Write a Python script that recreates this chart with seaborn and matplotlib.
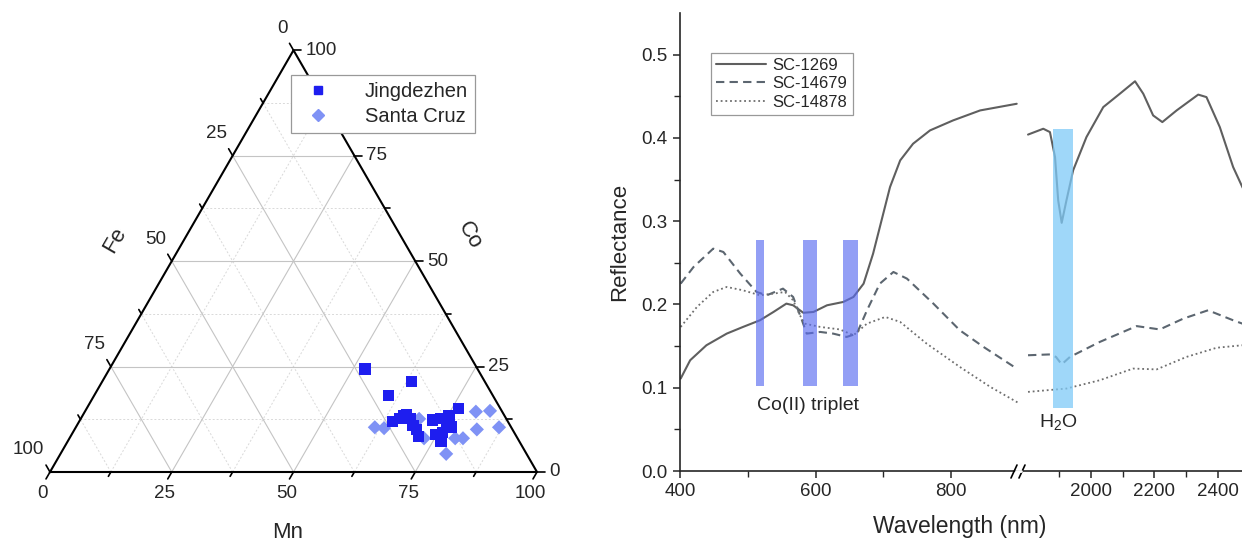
import numpy as np
import pandas as pd
import matplotlib
matplotlib.use("Agg")
import matplotlib.pyplot as plt
from matplotlib.lines import Line2D
import seaborn as sns

# ---------------- Data: ternary (Mn, Co, Fe in %) ----------------
jdz_mn = [52.5, 63.5, 60.4, 76.4, 66.5, 65.4, 64.4, 67.6, 69.0, 70.3, 71.4, 72.4, 73.9, 75.3, 75.5, 77.1, 74.8, 76.0, 76.7, 65.9]
jdz_co = [24.4, 21.4, 18.2, 15.0, 13.5, 12.7, 11.9, 12.7, 11.1, 10.0, 8.5, 12.3, 12.7, 13.3, 11.9, 10.7, 8.9, 9.3, 7.2, 13.3]
jdz_fe = [23.1, 15.1, 21.4, 8.6, 20.0, 21.9, 23.7, 19.7, 19.9, 19.7, 20.1, 15.3, 13.4, 11.4, 12.6, 12.2, 16.3, 14.7, 16.1, 20.8]

scz_mn = [61.4, 63.4, 69.5, 72.8, 79.2, 80.8, 79.2, 80.3, 83.1, 82.6, 86.9]
scz_co = [10.6, 10.4, 12.6, 8.0, 8.0, 8.0, 4.3, 14.3, 14.5, 10.1, 10.6]
scz_fe = [28.0, 26.2, 17.9, 19.2, 12.8, 11.2, 16.5, 5.4, 2.4, 7.3, 2.5]

tern_ticks = [0, 25, 50, 75, 100]
tern_minor = [12.5, 37.5, 62.5, 87.5]

# ---------------- Data: reflectance spectra ----------------
sc1269_vis_wl = [401, 415, 439, 469, 493, 518, 538, 557, 567, 582, 597, 617, 641, 656, 671, 685, 695, 710, 725, 744, 769, 803, 843, 897]
sc1269_vis_r = [0.111, 0.133, 0.151, 0.165, 0.173, 0.181, 0.191, 0.201, 0.199, 0.190, 0.191, 0.199, 0.203, 0.209, 0.225, 0.261, 0.293, 0.341, 0.373, 0.393, 0.409, 0.421, 0.433, 0.441]
sc1269_nir_wl = [1802, 1850, 1871, 1887, 1897, 1908, 1923, 1944, 1986, 2039, 2091, 2139, 2165, 2196, 2225, 2270, 2338, 2364, 2406, 2448, 2477, 2500]
sc1269_nir_r = [0.404, 0.411, 0.407, 0.377, 0.325, 0.298, 0.325, 0.361, 0.401, 0.437, 0.453, 0.468, 0.453, 0.427, 0.419, 0.433, 0.452, 0.449, 0.413, 0.365, 0.341, 0.325]

sc14679_vis_wl = [401, 420, 449, 464, 489, 513, 528, 552, 567, 580, 587, 607, 626, 646, 661, 676, 695, 715, 735, 774, 813, 848, 897]
sc14679_vis_r = [0.225, 0.245, 0.267, 0.263, 0.237, 0.215, 0.211, 0.219, 0.209, 0.181, 0.165, 0.167, 0.165, 0.161, 0.165, 0.193, 0.225, 0.239, 0.231, 0.201, 0.169, 0.149, 0.123]
sc14679_nir_wl = [1802, 1871, 1890, 1908, 1934, 2028, 2144, 2217, 2291, 2369, 2448, 2477, 2500]
sc14679_nir_r = [0.139, 0.140, 0.137, 0.128, 0.137, 0.155, 0.174, 0.170, 0.183, 0.193, 0.181, 0.177, 0.174]

sc14878_vis_wl = [401, 425, 449, 469, 493, 518, 538, 555, 567, 577, 584, 607, 636, 656, 676, 703, 725, 764, 813, 858, 899]
sc14878_vis_r = [0.173, 0.197, 0.215, 0.221, 0.217, 0.211, 0.213, 0.215, 0.205, 0.187, 0.177, 0.173, 0.170, 0.163, 0.177, 0.185, 0.179, 0.153, 0.125, 0.101, 0.082]
sc14878_nir_wl = [1802, 1923, 2028, 2133, 2207, 2301, 2396, 2477, 2500]
sc14878_nir_r = [0.095, 0.099, 0.109, 0.123, 0.122, 0.137, 0.148, 0.151, 0.152]

co_band_wl = [518, 592, 651]
co_band_width = [13, 20, 22]
co_band_range = [0.102, 0.277]
h2o_band_wl = [1913]
h2o_band_width = [62]
h2o_band_range = [0.076, 0.411]

vis_ticks = [400, 600, 800]
nir_ticks = [2000, 2200, 2400]
y_ticks = [0.0, 0.1, 0.2, 0.3, 0.4, 0.5]

# ---------------- Style ----------------
sns.set_style("ticks")
plt.rcParams["font.family"] = ["Liberation Sans", "DejaVu Sans"]
plt.rcParams["mathtext.default"] = "regular"

W, H = 1242, 543
fig = plt.figure(figsize=(W / 100, H / 100), dpi=100)

# ======== Ternary plot ========
PX = 487.0  # pixels per triangle unit
x0px, y0px = 50.0, 472.0
axT = fig.add_axes([0, 0, 560 / W, 1])
axT.set_xlim(-x0px / PX, (560 - x0px) / PX)
axT.set_ylim(-(H - y0px) / PX, y0px / PX)
axT.axis("off")
S3 = np.sqrt(3) / 2


def tern_xy(mn, co, fe):
    mn, co, fe = np.asarray(mn, float), np.asarray(co, float), np.asarray(fe, float)
    tot = mn + co + fe
    return (mn + 0.5 * co) / tot, S3 * co / tot


# grid
for k in tern_minor + tern_ticks[1:-1]:
    major = k in tern_ticks
    kw = dict(color="#c4c4c4", lw=0.8, ls="-") if major else dict(color="#d9d9d9", lw=0.7, ls=(0, (2, 2)))
    for a, b in [((0, k, 100 - k), (100 - k, k, 0)),          # Co = k
                 ((k, 0, 100 - k), (k, 100 - k, 0)),          # Mn = k
                 ((100 - k, 0, k), (0, 100 - k, k))]:         # Fe = k
        xa, ya = tern_xy(*a)
        xb, yb = tern_xy(*b)
        axT.plot([xa, xb], [ya, yb], zorder=1, **kw)

# triangle frame
tri = np.array([[0, 0], [1, 0], [0.5, S3], [0, 0]])
axT.plot(tri[:, 0], tri[:, 1], color="black", lw=1.5, zorder=4, solid_capstyle="projecting")

# ticks + labels
dirs = {"Mn": (-0.5, -S3), "Co": (1.0, 0.0), "Fe": (-0.5, S3)}
tick_fs = 13.5
for k in tern_ticks + tern_minor:
    major = k in tern_ticks
    L = (8 if major else 5) / PX
    bx, by = tern_xy(k, 0, 100 - k)
    d = dirs["Mn"]
    axT.plot([bx, bx + d[0] * L], [by, by + d[1] * L], color="black", lw=1.2, zorder=4)
    rx, ry = tern_xy(100 - k, k, 0)
    d = dirs["Co"]
    axT.plot([rx, rx + d[0] * L], [ry, ry + d[1] * L], color="black", lw=1.2, zorder=4)
    lx, ly = tern_xy(0, 100 - k, k)
    d = dirs["Fe"]
    axT.plot([lx, lx + d[0] * L], [ly, ly + d[1] * L], color="black", lw=1.2, zorder=4)
    if major:
        axT.text(bx - 7 / PX, by - 21 / PX, f"{k}", ha="center", va="center", fontsize=tick_fs)
        axT.text(rx + 12 / PX, ry, f"{k}", ha="left", va="center", fontsize=tick_fs)
        axT.text(lx - 6 / PX, ly + 22 / PX, f"{k}", ha="right", va="center", fontsize=tick_fs)

axT.text((288 - x0px) / PX, (y0px - 533) / PX, "Mn", ha="center", va="center", fontsize=16)
axT.text((115 - x0px) / PX, (y0px - 240) / PX, "Fe", ha="center", va="center", fontsize=16, rotation=60)
axT.text((470 - x0px) / PX, (y0px - 235) / PX, "Co", ha="center", va="center", fontsize=16, rotation=-60)

jx, jy = tern_xy(jdz_mn, jdz_co, jdz_fe)
sx, sy = tern_xy(scz_mn, scz_co, scz_fe)
tdf = pd.DataFrame({
    "x": np.concatenate([sx, jx]),
    "y": np.concatenate([sy, jy]),
    "site": ["Santa Cruz"] * len(sx) + ["Jingdezhen"] * len(jx),
})
col_j = "#1e1eef"
col_s = "#7f92f5"
sns.scatterplot(data=tdf[tdf.site == "Santa Cruz"], x="x", y="y", ax=axT, marker="D",
                color=col_s, s=52, edgecolor="none", zorder=5, legend=False)
sns.scatterplot(data=tdf[tdf.site == "Jingdezhen"], x="x", y="y", ax=axT, marker="s",
                color=col_j, s=66, edgecolor="none", zorder=6, legend=False)
axT.set_xlabel("")
axT.set_ylabel("")
axT.axis("off")

h_j = Line2D([], [], marker="s", ls="none", color=col_j, markersize=6)
h_s = Line2D([], [], marker="D", ls="none", color=col_s, markersize=6)
legT = axT.legend([h_j, h_s], ["Jingdezhen", "Santa Cruz"], loc="upper left",
                  bbox_to_anchor=(291 / 560, 1 - 75 / H), fontsize=14.5, frameon=True,
                  fancybox=False, edgecolor="#999999", framealpha=1, borderpad=0.35,
                  handletextpad=1.3, labelspacing=0.3, borderaxespad=0)
legT.get_frame().set_linewidth(0.9)

# ======== Reflectance plot ========
yb_px, yt_px = 471.0, 13.0
pxnm_vis = 0.6775
pxnm_nir = 0.3175
vis_lim = (400, 902)
nir_lim = (1783, 2500)
bottom = (H - yb_px) / H
height = (yb_px - yt_px) / H
axL = fig.add_axes([680 / W, bottom, (vis_lim[1] - vis_lim[0]) * pxnm_vis / W, height])
axR = fig.add_axes([1022 / W, bottom, (nir_lim[1] - nir_lim[0]) * pxnm_nir / W, height])

c1, c2, c3 = "#5f5f5f", "#5c6670", "#6e6e6e"
series = [
    ("SC-1269", sc1269_vis_wl, sc1269_vis_r, sc1269_nir_wl, sc1269_nir_r, c1, "-", 1.5),
    ("SC-14679", sc14679_vis_wl, sc14679_vis_r, sc14679_nir_wl, sc14679_nir_r, c2, (0, (4, 2.5)), 1.5),
    ("SC-14878", sc14878_vis_wl, sc14878_vis_r, sc14878_nir_wl, sc14878_nir_r, c3, (0, (1, 1.6)), 1.3),
]
for name, wv, rv, wn, rn, c, ls, lw in series:
    sns.lineplot(x=wv, y=rv, ax=axL, color=c, lw=lw, linestyle=ls, label=name, sort=False, estimator=None)
    sns.lineplot(x=wn, y=rn, ax=axR, color=c, lw=lw, linestyle=ls, sort=False, estimator=None, legend=False)

axL.bar(co_band_wl, co_band_range[1] - co_band_range[0], bottom=co_band_range[0],
        width=co_band_width, color="#5a6cf0", alpha=0.65, zorder=3, linewidth=0)
axR.bar(h2o_band_wl, h2o_band_range[1] - h2o_band_range[0], bottom=h2o_band_range[0],
        width=h2o_band_width, color="#7fcaf7", alpha=0.75, zorder=3, linewidth=0)

axL.text(589, 0.079, "Co(II) triplet", ha="center", va="center", fontsize=14)
axR.text(1896, 0.059, "H$_2$O", ha="center", va="center", fontsize=14)

for ax, lim in [(axL, vis_lim), (axR, nir_lim)]:
    ax.set_xlim(*lim)
    ax.set_ylim(0, 0.55)
    ax.set_xlabel("")
    ax.set_ylabel("")
    ax.spines["top"].set_visible(False)
    ax.spines["right"].set_visible(False)
    ax.spines["bottom"].set_linewidth(1.2)
    ax.spines["left"].set_linewidth(1.2)
    ax.patch.set_alpha(0)

axL.set_xticks(vis_ticks)
axL.set_xticks([500, 700], minor=True)
axL.set_yticks(y_ticks)
axL.set_yticklabels([f"{v:.1f}" for v in y_ticks])
axL.set_yticks([0.05, 0.15, 0.25, 0.35, 0.45], minor=True)
axR.set_xticks(nir_ticks)
axR.set_xticks([1900, 2100, 2300], minor=True)
axR.spines["left"].set_visible(False)
for ax in (axL, axR):
    ax.tick_params(axis="both", which="major", direction="out", length=5, width=1.1, labelsize=13.5, pad=4)
    ax.tick_params(axis="both", which="minor", direction="out", length=4, width=1.0)
axR.tick_params(axis="y", left=False, labelleft=False, which="both")

axL.set_ylabel("Reflectance", fontsize=16, labelpad=8)
fig.text(960 / W, 1 - 527 / H, "Wavelength (nm)", ha="center", va="center", fontsize=16.5)

legR = axL.legend(loc="upper left", bbox_to_anchor=(31 / 340, (yb_px - 53) / (yb_px - yt_px)),
                  fontsize=12, frameon=True, fancybox=False, edgecolor="#999999", framealpha=1,
                  borderpad=0.3, handlelength=3.0, handletextpad=0.4, labelspacing=0.2, borderaxespad=0)
legR.get_frame().set_linewidth(0.9)

# axis break marks
for xb in (1014, 1022):
    fig.add_artist(Line2D([(xb - 3) / W, (xb + 3) / W], [(H - 478) / H, (H - 465) / H],
                          color="black", lw=1.2, transform=fig.transFigure))
fig.add_artist(Line2D([1015.5 / W, 1020.5 / W], [(H - 471) / H, (H - 471) / H],
                      color="white", lw=2, transform=fig.transFigure))

fig.savefig("out.png", dpi=100)
